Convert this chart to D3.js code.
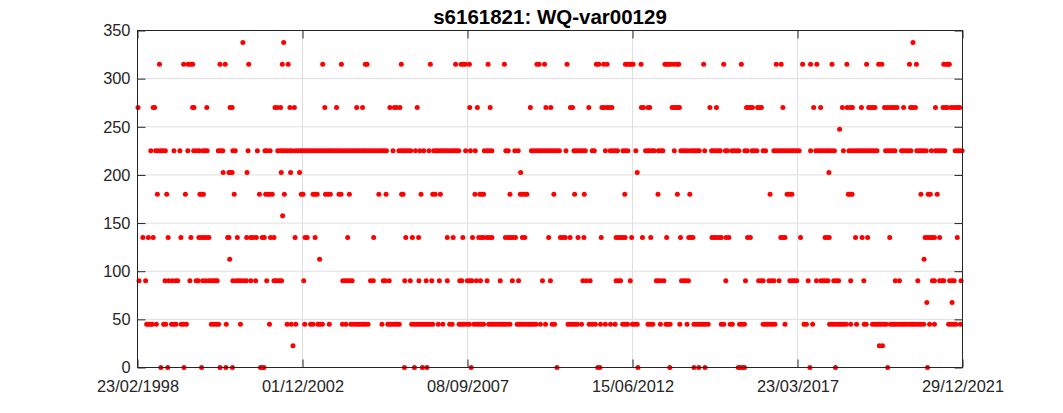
<!DOCTYPE html>
<html>
<head>
<meta charset="utf-8">
<script src="https://cdn.jsdelivr.net/npm/d3@7"></script>
<style>
  body { margin: 0; background: #fff; }
  svg { display: block; font-family: "Liberation Sans", Arial, Helvetica, sans-serif; }
</style>
</head>
<body>
<script>
// sample dates as decimal years, grouped by the value they take
const levels = [0, 22.5, 45, 67.5, 90, 112.5, 135, 157.5, 180, 202.5, 225, 247.5, 270, 315, 337.5]

const t0 = [1998.82, 1999.02, 1999.49, 2000.00, 2000.53, 2000.70, 2000.89, 2001.70, 2001.76, 2001.80, 2005.86, 2006.15, 2006.38, 2006.51, 2007.79, 2010.27, 2011.45, 2011.51, 2012.61, 2013.53, 2014.23, 2014.37, 2014.55, 2015.51, 2015.57, 2015.64, 2015.69, 2017.58, 2018.32, 2019.83, 2020.98]
const t22 = [2002.64, 2019.59, 2019.68]
const t45 = [1998.41, 1998.46, 1998.52, 1998.57, 1998.69, 1998.90, 1998.96, 1999.13, 1999.20, 1999.26, 1999.41, 1999.48, 1999.56, 2000.28, 2000.35, 2000.42, 2000.49, 2000.71, 2001.12, 2001.96,
  2002.47, 2002.59, 2002.72, 2002.98, 2003.15, 2003.22, 2003.36, 2003.42, 2003.49, 2003.69, 2004.07, 2004.17, 2004.31, 2004.39, 2004.47, 2004.53, 2004.60, 2004.67, 2004.73, 2004.81, 2005.21, 2005.38, 2005.45, 2005.51, 2005.58, 2005.65, 2005.71, 2006.07, 2006.14, 2006.21, 2006.28, 2006.34, 2006.41, 2006.48, 2006.55, 2006.61, 2006.68, 2006.84,
  2006.97, 2007.17, 2007.24, 2007.44, 2007.51, 2007.58, 2007.67, 2007.74, 2007.87, 2007.94, 2008.01, 2008.08, 2008.15, 2008.30, 2008.37, 2008.43, 2008.50, 2008.57, 2008.64, 2008.70, 2008.77, 2008.84, 2008.91, 2009.12, 2009.19, 2009.25, 2009.32, 2009.39, 2009.46, 2009.52, 2009.59, 2009.66, 2009.79, 2009.94, 2010.13, 2010.20, 2010.59, 2010.66, 2010.73, 2010.79, 2010.86, 2010.98, 2011.20, 2011.29, 2011.38, 2011.53, 2011.67, 2011.82,
  2011.95, 2012.17, 2012.24, 2012.31, 2012.45, 2012.52, 2012.59, 2012.90, 2012.97, 2013.04, 2013.26, 2013.42, 2013.47, 2013.54, 2013.82, 2014.03, 2014.23, 2014.30, 2014.37, 2014.44, 2014.50, 2014.57, 2014.64, 2015.02, 2015.09, 2015.28, 2015.34, 2015.55, 2015.62, 2015.69, 2016.23, 2016.30, 2016.36, 2016.43, 2016.50, 2016.57,
  2016.86, 2017.41, 2017.48, 2017.66, 2018.15, 2018.22, 2018.29, 2018.36, 2018.43, 2018.49, 2018.56, 2018.63, 2018.76, 2018.93, 2019.15, 2019.21, 2019.39, 2019.46, 2019.52, 2019.59, 2019.66, 2019.73, 2019.79, 2019.91, 2019.98, 2020.04, 2020.11, 2020.18, 2020.25, 2020.31, 2020.38, 2020.45, 2020.52, 2020.58, 2020.65, 2020.72, 2020.79, 2020.87, 2021.04, 2021.18, 2021.59, 2021.66, 2021.73, 2021.80, 2021.93]
const t67 = [2020.96, 2021.69]
const t90 = [1998.19, 1998.38, 1998.94, 1999.05, 1999.15, 1999.25, 1999.31, 1999.66, 1999.84, 1999.90, 2000.03, 2000.12, 2000.21, 2000.28, 2000.35, 2000.40, 2000.45, 2000.90, 2001.00, 2001.07, 2001.14, 2001.22, 2001.29, 2001.42, 2001.56, 2001.88,
  2002.09, 2002.14, 2002.20, 2002.26, 2002.31, 2002.95, 2004.08, 2004.15, 2004.21, 2004.28, 2004.35, 2004.88, 2004.96, 2005.25, 2005.31, 2005.42, 2005.87, 2006.03, 2006.28, 2006.49, 2006.65, 2006.87,
  2007.10, 2007.46, 2007.52, 2007.68, 2007.75, 2007.81, 2007.94, 2008.06, 2008.25, 2008.63, 2008.98, 2009.16, 2009.85, 2010.08, 2011.02, 2011.12, 2011.23,
  2011.98, 2012.05, 2012.11, 2012.39, 2013.14, 2013.20, 2013.27, 2013.36, 2013.87, 2013.94, 2014.00, 2014.07, 2015.15, 2015.72, 2016.10, 2016.17, 2016.23, 2016.40, 2016.47, 2016.54, 2016.69,
  2017.00, 2017.07, 2017.13, 2017.20, 2017.53, 2017.77, 2017.90, 2017.97, 2018.04, 2018.10, 2018.27, 2018.34, 2018.41, 2018.76, 2019.14, 2020.05, 2020.17, 2020.70, 2021.12, 2021.18, 2021.33, 2021.40, 2021.45, 2021.62, 2021.69, 2021.75, 2021.95]
const t112 = [2000.81, 2003.41, 2020.88]
const t135 = [1998.30, 1998.46, 1998.60, 1999.03, 1999.40, 1999.69, 1999.92, 2000.00, 2000.07, 2000.14, 2000.21, 2000.75, 2000.79, 2001.03, 2001.30, 2001.42, 2001.49, 2001.58, 2001.75, 2001.81, 2001.99,
  2002.09, 2002.70, 2002.99, 2003.05, 2003.28, 2004.22, 2004.97, 2005.90, 2006.09, 2006.27,
  2007.10, 2007.27, 2007.55, 2007.83, 2008.01, 2008.08, 2008.15, 2008.25, 2008.32, 2008.39, 2008.78, 2008.86, 2008.93, 2008.99, 2009.07, 2009.27, 2009.34, 2010.03, 2010.37, 2010.44, 2010.51, 2010.65, 2010.88, 2011.05, 2011.55,
  2011.98, 2012.05, 2012.11, 2012.18, 2012.24, 2012.43, 2012.74, 2012.98, 2013.44, 2013.84, 2014.08, 2014.14, 2014.20, 2014.75, 2014.82, 2014.89, 2014.96, 2015.02, 2015.16, 2015.24, 2015.78, 2015.86, 2016.74,
  2016.80, 2016.86, 2017.31, 2018.02, 2018.08, 2018.14, 2018.90, 2019.09, 2019.25, 2019.89, 2020.91, 2020.98, 2021.05, 2021.11, 2021.18, 2021.33, 2021.84]
const t157 = [2002.34]
const t180 = [1998.72, 1998.99, 1999.53, 1999.95, 2000.00, 2000.05, 2000.94, 2001.67, 2001.85, 2001.92, 2001.97, 2002.04,
  2002.39, 2002.88, 2002.93, 2003.22, 2003.28, 2003.34, 2003.58, 2003.65, 2003.72, 2003.97, 2004.03, 2004.27, 2005.12, 2005.33, 2005.78, 2005.82, 2006.34, 2006.68, 2006.75, 2006.90,
  2007.90, 2008.04, 2008.10, 2008.15, 2008.91, 2009.21, 2009.28, 2009.35, 2009.40, 2010.18, 2010.78, 2011.06,
  2012.23, 2013.19, 2013.75, 2014.11, 2016.43,
  2016.92, 2016.99, 2017.06, 2018.69, 2018.74, 2018.80, 2020.79, 2021.00, 2021.06, 2021.26]
const t202 = [2000.62, 2000.79, 2000.83, 2000.88, 2001.31, 2002.30, 2002.57, 2002.83, 2009.22, 2012.59, 2018.13]
const t225 = [1998.53, 1998.67, 1998.74, 1998.82, 1998.88, 1998.95, 1999.20, 1999.37, 1999.60, 1999.77, 1999.85, 1999.93, 2000.04, 2000.10, 2000.16, 2000.48, 2000.54, 2000.61, 2000.90, 2000.97, 2001.34, 2001.61, 2001.83, 2001.89, 2001.98,
  2002.20, 2002.27, 2002.34, 2002.40, 2002.47, 2002.54, 2002.61, 2002.71, 2002.78, 2002.85, 2002.91, 2002.98, 2003.05, 2003.12, 2003.18, 2003.25, 2003.32, 2003.39, 2003.45, 2003.52, 2003.59, 2003.66, 2003.72, 2003.79, 2003.86, 2003.93, 2003.99, 2004.06, 2004.13, 2004.20, 2004.26, 2004.33, 2004.40, 2004.47, 2004.53, 2004.60, 2004.67, 2004.73, 2004.80, 2004.87, 2004.94, 2005.00, 2005.07, 2005.14, 2005.21, 2005.27, 2005.34, 2005.53, 2005.70, 2005.77, 2005.83, 2005.90, 2005.97, 2006.04, 2006.18, 2006.31, 2006.42, 2006.57, 2006.71, 2006.78, 2006.84, 2006.91,
  2006.97, 2007.04, 2007.10, 2007.17, 2007.24, 2007.31, 2007.37, 2007.43, 2007.63, 2007.77, 2007.91, 2008.17, 2008.25, 2008.32, 2008.39, 2008.79, 2008.86, 2009.05, 2009.15, 2009.53, 2009.60, 2009.67, 2009.73, 2009.80, 2009.87, 2009.94, 2010.00, 2010.07, 2010.14, 2010.21, 2010.27, 2010.34, 2010.53, 2010.76, 2010.82, 2010.89, 2010.96, 2011.03, 2011.09, 2011.29, 2011.35, 2011.67, 2011.81,
  2011.88, 2011.95, 2012.02, 2012.18, 2012.25, 2012.32, 2012.55, 2012.83, 2012.90, 2012.96, 2013.03, 2013.08, 2013.20, 2013.27, 2013.33, 2013.66, 2013.85, 2013.92, 2013.98, 2014.05, 2014.13, 2014.20, 2014.26, 2014.33, 2014.38, 2014.54, 2014.74, 2014.80, 2014.87, 2014.94, 2014.99, 2015.14, 2015.20, 2015.33, 2015.40, 2015.47, 2015.53, 2015.70, 2015.77, 2015.91, 2015.98, 2016.05, 2016.23, 2016.30, 2016.54, 2016.60, 2016.67, 2016.74,
  2016.80, 2016.86, 2016.93, 2017.00, 2017.07, 2017.13, 2017.20, 2017.27, 2017.60, 2017.75, 2017.82, 2017.89, 2017.95, 2018.02, 2018.09, 2018.15, 2018.22, 2018.29, 2018.55, 2018.71, 2018.78, 2018.85, 2018.92, 2018.98, 2019.05, 2019.12, 2019.19, 2019.25, 2019.32, 2019.39, 2019.46, 2019.52, 2019.77, 2019.84, 2019.91, 2019.98, 2020.04, 2020.23, 2020.29, 2020.36, 2020.43, 2020.50, 2020.67, 2020.74, 2020.80, 2020.87, 2020.94, 2021.09, 2021.21, 2021.28, 2021.34, 2021.41, 2021.48, 2021.78, 2021.85, 2021.91, 2021.98]
const t247 = [2018.44]
const t270 = [1998.16, 1998.60, 1998.64, 1999.74, 1999.78, 2000.15, 2000.82, 2000.88, 2002.12, 2002.18, 2002.28, 2002.55, 2002.68, 2003.56, 2003.90, 2004.48, 2004.65, 2005.44, 2005.57, 2005.63, 2005.73, 2006.23,
  2007.75, 2007.97, 2008.34, 2009.50, 2009.95, 2010.09, 2010.66, 2010.72, 2011.19, 2011.57, 2011.64, 2011.72, 2011.79, 2011.86,
  2012.71, 2012.77, 2012.90, 2012.95, 2013.60, 2013.66, 2013.71, 2013.77, 2013.81, 2014.69, 2014.88, 2015.75, 2015.80, 2015.86, 2015.92, 2016.07, 2016.12, 2016.18,
  2016.80, 2017.69, 2017.89, 2018.52, 2018.66, 2018.75, 2018.81, 2019.07, 2019.28, 2019.34, 2019.40, 2019.46, 2019.74, 2019.81, 2019.89, 2019.96, 2020.03, 2020.10, 2020.29, 2020.49, 2020.55, 2020.63, 2021.21, 2021.43, 2021.50, 2021.55, 2021.66, 2021.74, 2021.81, 2021.85, 2021.91]
const t315 = [1998.78, 1999.48, 1999.61, 1999.68, 1999.74, 2000.53, 2000.68, 2001.36, 2002.33, 2002.50, 2003.50, 2004.04, 2004.73, 2004.78, 2005.77, 2006.61,
  2007.34, 2007.50, 2007.56, 2007.62, 2007.74, 2008.28, 2008.75, 2009.69, 2009.75, 2009.91, 2010.56, 2011.41, 2011.48, 2011.62, 2011.72,
  2012.25, 2012.30, 2012.36, 2012.41, 2012.47, 2012.70, 2013.39, 2013.44, 2013.50, 2013.56, 2013.65, 2013.74, 2013.79, 2014.51, 2015.09, 2015.60, 2016.61, 2016.75,
  2017.37, 2017.60, 2017.78, 2018.22, 2018.65, 2019.22, 2019.57, 2019.66, 2020.46, 2020.66, 2021.45, 2021.52, 2021.57, 2021.61]
const t337 = [2001.19, 2002.37, 2020.56]

const times = [t0, t22, t45, t67, t90, t112, t135, t157, t180, t202, t225, t247, t270, t315, t337]

const yTicks = [0, 50, 100, 150, 200, 250, 300, 350]
const startDate = new Date(Date.UTC(1998, 1, 23))
const endDate = new Date(Date.UTC(2021, 11, 29))
const title = 's6161821: WQ-var00129'

const W = 1063, H = 413
const m = {left: 137.5, right: 100.5, top: 30.5, bottom: 45.5}
const iw = W - m.left - m.right, ih = H - m.top - m.bottom

const yearToDate = y => {
    const yr = Math.floor(y)
    const s = Date.UTC(yr, 0, 1), e = Date.UTC(yr + 1, 0, 1)
    return new Date(s + (y - yr) * (e - s))
}

const points = []
levels.forEach((v, i) => times[i].forEach(t => points.push({date: yearToDate(t), value: v})))

// matlab puts 6 evenly spaced ticks over the date range
const xTicks = d3.range(6).map(i => new Date(+startDate + i * (endDate - startDate) / 5))

const x = d3.scaleUtc().domain([startDate, endDate]).range([0, iw])
const y = d3.scaleLinear().domain([0, 350]).range([ih, 0])
const fmt = d3.utcFormat('%d/%m/%Y')

const svg = d3.select('body').append('svg')
    .attr('width', W)
    .attr('height', H)

svg.append('rect').attr('width', W).attr('height', H).attr('fill', '#fff')

const g = svg.append('g').attr('transform', `translate(${m.left},${m.top})`)

// grid
g.append('g')
    .attr('class', 'grid')
    .selectAll('line.gy')
    .data(yTicks.slice(1, -1)).enter()
    .append('line')
    .attr('x1', 0).attr('x2', iw)
    .attr('y1', d => y(d)).attr('y2', d => y(d))
    .attr('stroke', '#dfdfdf')
g.append('g')
    .selectAll('line.gx')
    .data(xTicks.slice(1, -1)).enter()
    .append('line')
    .attr('y1', 0).attr('y2', ih)
    .attr('x1', d => x(d)).attr('x2', d => x(d))
    .attr('stroke', '#dfdfdf')

// points
g.append('g')
    .selectAll('circle')
    .data(points).enter()
    .append('circle')
    .attr('cx', d => x(d.date))
    .attr('cy', d => y(d.value))
    .attr('r', 2.5)
    .attr('fill', '#ff0000')

// axes
const styleAxis = sel => {
    sel.select('.domain').remove()
    sel.selectAll('line').attr('stroke', '#262626')
    sel.selectAll('text')
        .attr('fill', '#262626')
        .style('font-size', '16.4px')
        .style('font-family', '"Liberation Sans", Arial, sans-serif')
}

g.append('g')
    .attr('transform', `translate(0,${ih})`)
    .call(d3.axisBottom(x).tickValues(xTicks).tickFormat(fmt).tickSize(-8).tickPadding(12.5))
    .call(styleAxis)
g.append('g')
    .call(d3.axisTop(x).tickValues(xTicks).tickFormat('').tickSize(-8))
    .call(styleAxis)
g.append('g')
    .call(d3.axisLeft(y).tickValues(yTicks).tickSize(-8).tickPadding(7))
    .call(styleAxis)
g.append('g')
    .attr('transform', `translate(${iw},0)`)
    .call(d3.axisRight(y).tickValues(yTicks).tickFormat('').tickSize(-8))
    .call(styleAxis)

g.append('rect')
    .attr('width', iw).attr('height', ih)
    .attr('fill', 'none')
    .attr('stroke', '#262626')
    .attr('stroke-width', 1)

svg.append('text')
    .attr('x', m.left + iw / 2)
    .attr('y', 24)
    .attr('text-anchor', 'middle')
    .attr('fill', '#000')
    .style('font-size', '20.5px')
    .style('font-weight', 'bold')
    .text(title)
</script>
</body>
</html>
